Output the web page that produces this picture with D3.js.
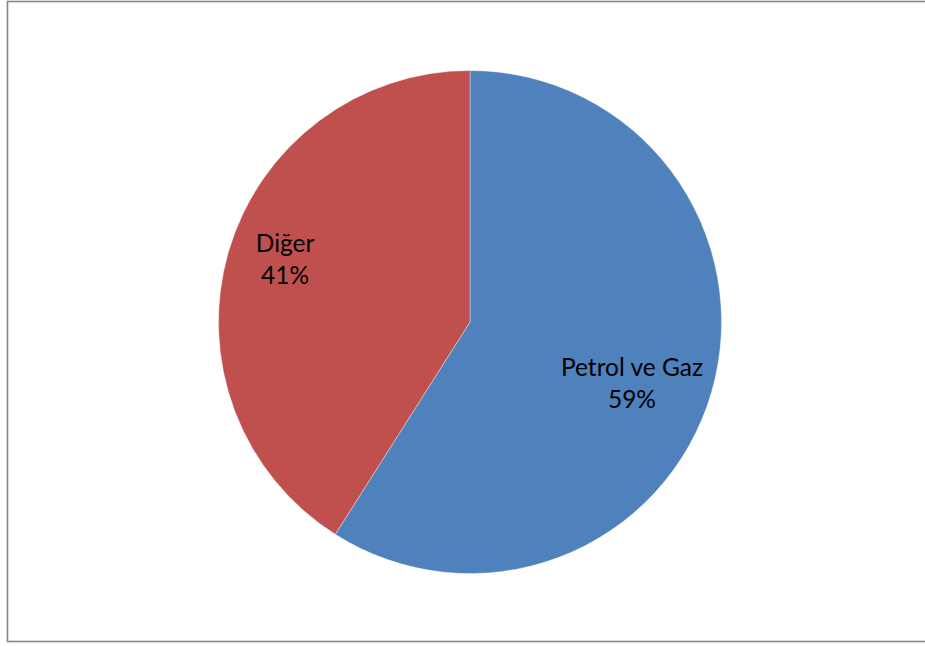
<!DOCTYPE html>
<html><head><meta charset="utf-8">
<script src="https://cdn.jsdelivr.net/npm/d3@7"></script>
<style>html,body{margin:0;padding:0;background:#fff;}svg{display:block;}</style>
</head><body>
<svg id="chart" width="925" height="646"></svg>
<script>
const categories = ["Petrol ve Gaz", "Diğer"];
const values = [59, 41];
const colors = ["#4F81BD", "#C0504D"];

const W = 925, H = 646;
const cx = 470, cy = 322, R = 251.5;
// label placement (angle shift in radians, radius fraction) per slice, style only
const labelLayout = [{da: 0.123, rf: 0.701}, {da: 0.002, rf: 0.766}];

const svg = d3.select("#chart");
svg.append("rect").attr("x", 7.5).attr("y", 1.5).attr("width", 930).attr("height", 640)
  .attr("fill", "#fff").attr("stroke", "#868686").attr("stroke-width", 1.6);

const pie = d3.pie().sort(null).value(d => d);
const arcs = pie(values);
const arc = d3.arc().innerRadius(0).outerRadius(R);
const g = svg.append("g").attr("transform", `translate(${cx},${cy})`);

g.selectAll("path").data(arcs).join("path")
  .attr("d", arc).attr("fill", (d, i) => colors[i])
  .attr("stroke", "#fff").attr("stroke-width", 0.6).attr("stroke-opacity", 0.6);

const total = d3.sum(values);
arcs.forEach((d, i) => {
  const a = (d.startAngle + d.endAngle) / 2 + labelLayout[i].da;
  const [x, y] = d3.pointRadial(a, R * labelLayout[i].rf);
  const t = g.append("text").attr("text-anchor", "middle")
    .attr("font-family", "Lato, 'Open Sans', sans-serif").attr("font-size", 24.5)
    .attr("fill", "#000");
  t.append("tspan").attr("x", x).attr("y", y - 16).text(categories[i]);
  t.append("tspan").attr("x", x).attr("y", y + 16.5).text(Math.round(d.data / total * 100) + "%");
});
</script>
</body></html>
